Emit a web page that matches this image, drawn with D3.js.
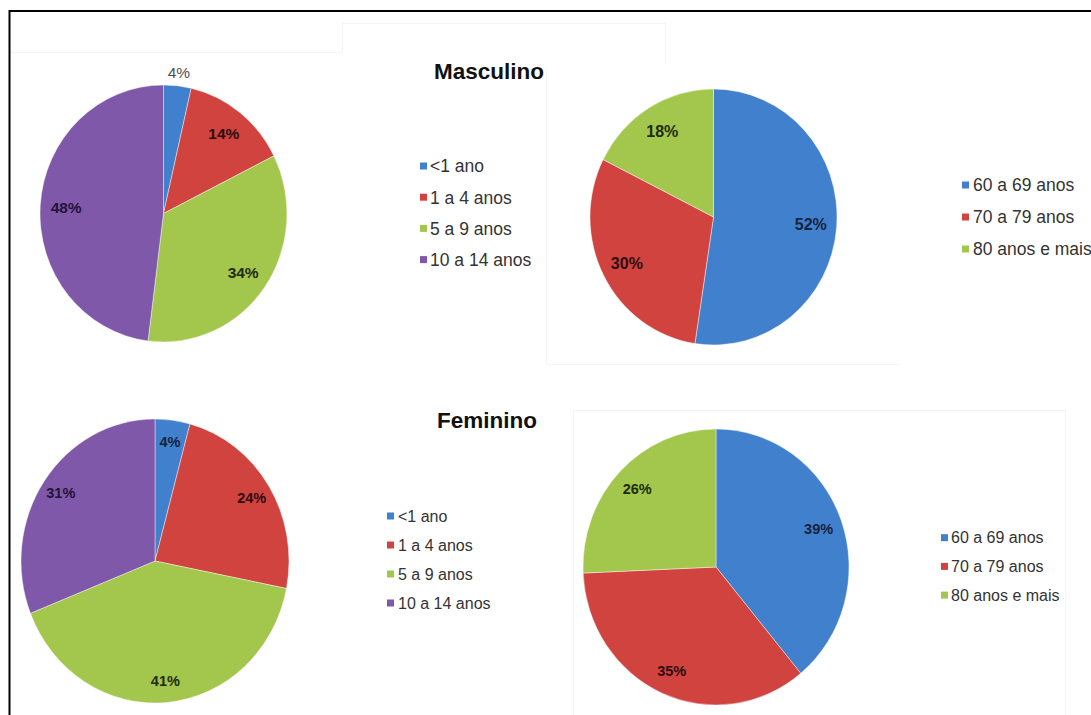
<!DOCTYPE html>
<html>
<head>
<meta charset="utf-8">
<script src="https://cdn.jsdelivr.net/npm/d3@7"></script>
<style>
html, body { margin: 0; padding: 0; background: #fff; overflow: hidden; }
svg { display: block; }
</style>
</head>
<body>
<svg id="chart" width="1091" height="715"></svg>
<script>
// ---- data ----
const sectionTitles = ["Masculino", "Feminino"];
const childCategories = ["<1 ano", "1 a 4 anos", "5 a 9 anos", "10 a 14 anos"];
const elderCategories = ["60 a 69 anos", "70 a 79 anos", "80 anos e mais"];
const masculinoChild = [3.6, 14.0, 34.4, 48.0];
const masculinoElder = [52.4, 30.0, 17.6];
const femininoChild = [4.2, 23.9, 40.9, 31.0];
const femininoElder = [39.0, 35.3, 25.7];

// ---- styles ----
const sliceColors = ["#4180cc", "#d0433f", "#a3c64d", "#7f58a9"];
const labelColors = ["#15233f", "#2f0c0c", "#1e2b08", "#241338"];

const charts = [
  { values: masculinoChild, cats: childCategories, cx: 163.5, cy: 213.5, rx: 123.5, ry: 128.5,
    labelR: 0.79, outsideBelow: 4, labelSize: 15.5,
    legend: { mx: 420, tx: 430, y0: 166, step: 31.2, size: 17.5 } },
  { values: masculinoElder, cats: elderCategories, cx: 713.5, cy: 217, rx: 123.5, ry: 128,
    labelR: 0.79, outsideBelow: 0, labelSize: 16,
    legend: { mx: 962, tx: 973, y0: 185, step: 32, size: 17.5 } },
  { values: femininoChild, cats: childCategories, cx: 155, cy: 561, rx: 134, ry: 142,
    labelR: 0.85, outsideBelow: 0, labelSize: 14.5,
    legend: { mx: 387, tx: 398, y0: 516, step: 29, size: 16 } },
  { values: femininoElder, cats: elderCategories, cx: 716, cy: 567, rx: 133, ry: 138,
    labelR: 0.82, outsideBelow: 0, labelSize: 14.5,
    legend: { mx: 941, tx: 951, y0: 537.7, step: 28.7, size: 16 } }
];

const titlePos = [{ x: 489, y: 79 }, { x: 487, y: 428 }];

const svg = d3.select("#chart");
svg.append("rect").attr("width", 1091).attr("height", 715).attr("fill", "#fff");

// faint frame remnants of the original screenshot
const faint = svg.append("g").attr("fill", "none").attr("stroke", "#f4f4f4").attr("stroke-width", 1);
faint.append("path").attr("d", "M10,52.5H342.5V23.5H665.5V62");
faint.append("path").attr("d", "M546.5,68V364.5H900");
faint.append("path").attr("d", "M573.5,715V410.5H1065.5V715");

// outer border
svg.append("rect")
  .attr("x", 9.5).attr("y", 11).attr("width", 1110).attr("height", 740)
  .attr("fill", "none").attr("stroke", "#000").attr("stroke-width", 2);

// titles
svg.selectAll("text.title").data(sectionTitles).join("text")
  .attr("class", "title")
  .attr("x", (d, i) => titlePos[i].x).attr("y", (d, i) => titlePos[i].y)
  .attr("text-anchor", "middle")
  .attr("font-family", "Liberation Sans, Arial, sans-serif")
  .attr("font-weight", "bold").attr("font-size", 22.5)
  .attr("fill", "#111")
  .text(d => d);

const pie = d3.pie().sort(null).value(d => d);
const fmt = v => Math.round(v) + "%";

charts.forEach(c => {
  const sx = c.rx / c.ry;
  const arcs = pie(c.values);
  const g = svg.append("g").attr("transform", `translate(${c.cx},${c.cy})`);
  const arc = d3.arc().innerRadius(0).outerRadius(c.ry);

  g.append("g").attr("transform", `scale(${sx},1)`)
    .selectAll("path").data(arcs).join("path")
    .attr("d", arc)
    .attr("fill", (d, i) => sliceColors[i])
    .attr("stroke", "#ffffff").attr("stroke-opacity", 0.55).attr("stroke-width", 0.8);

  g.selectAll("text").data(arcs).join("text")
    .each(function (d, i) {
      const outside = d.data < c.outsideBelow;
      const rr = c.ry * (outside ? 1.107 : c.labelR);
      const p = d3.arc().innerRadius(rr).outerRadius(rr).centroid(d);
      d3.select(this)
        .attr("x", p[0] * sx).attr("y", p[1])
        .attr("fill", outside ? "#505050" : labelColors[i])
        .attr("font-weight", outside ? "normal" : "bold");
    })
    .attr("text-anchor", "middle").attr("dy", "0.36em")
    .attr("font-family", "Liberation Sans, Arial, sans-serif")
    .attr("font-size", c.labelSize)
    .text(d => fmt(d.data));

  // legend
  const L = c.legend;
  const lg = svg.append("g");
  const rows = lg.selectAll("g").data(c.cats).join("g")
    .attr("transform", (d, i) => `translate(0,${L.y0 + i * L.step})`);
  rows.append("rect")
    .attr("x", L.mx).attr("y", -3.5).attr("width", 7).attr("height", 7)
    .attr("fill", (d, i) => sliceColors[i]);
  rows.append("text")
    .attr("x", L.tx).attr("y", 0).attr("dy", "0.36em")
    .attr("font-family", "Liberation Sans, Arial, sans-serif")
    .attr("font-size", L.size).attr("fill", "#333")
    .text(d => d);
});
</script>
</body>
</html>
